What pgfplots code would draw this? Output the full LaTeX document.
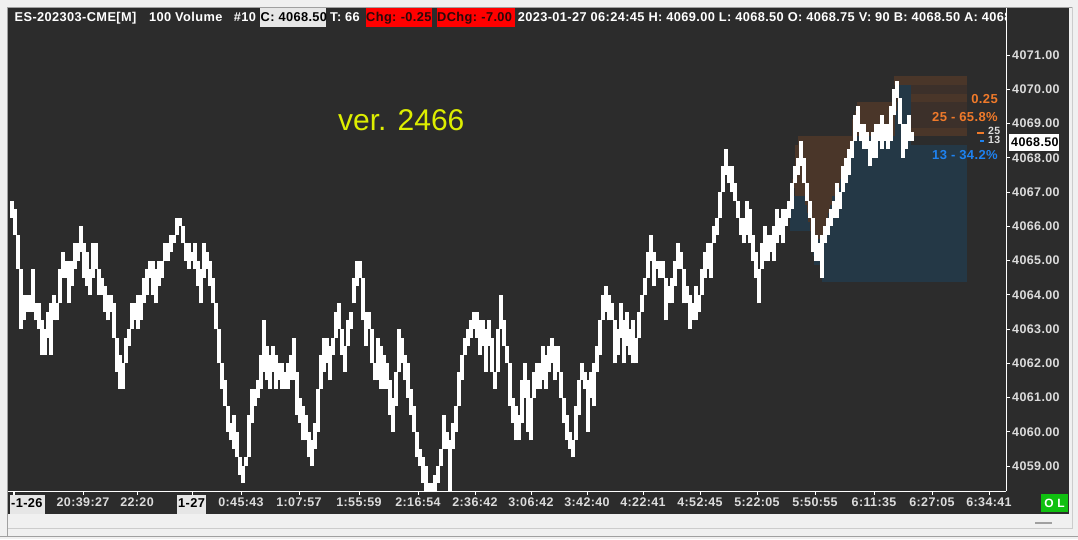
\documentclass[border=0pt]{standalone}
\usepackage{fontspec}
\setmainfont{Liberation Sans}[LetterSpace=3.0]
\newfontfamily\verfont{Liberation Sans}
\usepackage{pgfplots}
\usepackage{pgfplotstable}
\pgfplotsset{compat=1.18}
\definecolor{bgdark}{HTML}{2C2C2C}
\definecolor{frame}{HTML}{F0F0F0}
\definecolor{framegray}{HTML}{A0A0A0}
\definecolor{tickgray}{HTML}{DCDCDC}
\definecolor{brownA}{HTML}{4A3629}
\definecolor{brownB}{HTML}{3C302A}
\definecolor{blueP}{HTML}{243846}
\definecolor{orangeT}{HTML}{F07A2A}
\definecolor{blueT}{HTML}{1E82F0}
\definecolor{verY}{HTML}{DDEE00}
\definecolor{lightbox}{HTML}{E6E6E6}
\definecolor{redbox}{HTML}{FF0000}
\definecolor{redtext}{HTML}{2A0A0A}
\definecolor{greenbox}{HTML}{10C010}

\pgfplotstableread{
x hi lo
12 4066.75 4066.25
15 4066.50 4065.75
18 4065.75 4064.75
21 4064.75 4063.00
24 4064.00 4063.25
27 4064.00 4063.50
30 4064.00 4063.50
33 4064.75 4063.50
36 4063.75 4063.25
39 4063.75 4063.00
42 4063.25 4062.25
45 4063.00 4062.25
48 4063.50 4062.75
51 4063.75 4062.25
54 4064.00 4063.25
57 4063.75 4063.25
60 4064.75 4063.75
63 4065.25 4064.50
66 4065.00 4064.50
69 4065.00 4063.75
72 4065.00 4064.25
75 4065.50 4064.75
78 4065.50 4065.00
81 4066.00 4065.25
84 4065.50 4064.50
87 4065.25 4064.25
90 4064.75 4064.00
93 4065.50 4064.50
96 4065.50 4064.75
99 4064.75 4064.00
102 4064.50 4064.00
105 4064.25 4063.50
108 4064.00 4063.25
111 4064.00 4063.50
114 4063.75 4062.75
117 4062.75 4061.75
120 4062.25 4061.25
123 4062.00 4061.25
126 4062.75 4062.00
129 4063.00 4062.50
132 4063.75 4063.00
135 4063.75 4063.25
138 4064.00 4063.00
141 4064.00 4063.25
144 4064.50 4063.75
147 4064.75 4064.00
150 4065.00 4064.50
153 4065.00 4064.00
156 4064.75 4063.75
159 4065.00 4064.25
162 4065.00 4064.50
165 4065.50 4065.00
168 4065.50 4065.00
171 4065.75 4065.25
174 4065.75 4065.50
177 4066.25 4065.75
180 4066.25 4066.00
183 4066.00 4065.50
186 4065.50 4065.00
189 4065.50 4064.75
192 4065.25 4065.00
195 4065.50 4064.75
198 4065.00 4064.25
201 4064.75 4063.75
204 4065.50 4064.50
207 4065.25 4064.75
210 4065.00 4064.25
213 4064.50 4063.75
216 4063.75 4063.00
219 4063.00 4062.00
222 4062.00 4061.25
225 4061.50 4060.75
228 4060.75 4060.00
231 4060.25 4059.75
234 4060.50 4059.50
237 4060.00 4059.25
240 4059.25 4058.75
243 4059.00 4058.50
246 4059.25 4059.00
249 4060.50 4059.25
252 4061.25 4060.25
255 4061.25 4060.75
258 4061.50 4061.00
261 4062.25 4061.25
264 4063.25 4061.75
267 4062.50 4061.50
270 4062.25 4061.25
273 4062.50 4061.75
276 4062.25 4061.25
279 4062.00 4061.50
282 4062.00 4061.25
285 4061.75 4061.25
288 4062.00 4061.25
291 4062.25 4061.50
294 4062.75 4061.50
297 4061.75 4060.50
300 4061.00 4060.25
303 4060.75 4059.75
306 4060.50 4059.75
309 4060.00 4059.25
312 4059.75 4059.00
315 4060.25 4059.50
318 4061.25 4060.00
321 4062.25 4061.25
324 4062.75 4061.75
327 4062.75 4062.00
330 4062.50 4061.50
333 4062.75 4062.25
336 4063.50 4062.75
339 4063.75 4063.00
342 4063.00 4062.25
345 4062.50 4061.75
348 4063.25 4062.50
351 4063.50 4063.00
354 4064.50 4063.75
357 4065.00 4064.25
360 4065.00 4064.50
363 4064.50 4063.25
366 4063.50 4062.50
369 4063.50 4063.00
372 4063.00 4062.00
375 4062.00 4061.50
378 4062.75 4061.50
381 4062.50 4061.25
384 4062.25 4061.25
387 4062.00 4061.25
390 4061.50 4060.50
393 4061.00 4060.00
396 4061.75 4060.75
399 4063.00 4061.75
402 4062.75 4062.00
405 4062.25 4061.50
408 4062.00 4061.00
411 4061.25 4060.50
414 4060.75 4060.00
417 4060.00 4059.25
420 4059.50 4059.00
423 4059.25 4058.50
426 4059.00 4058.25
429 4058.50 4058.25
432 4058.50 4058.25
435 4058.75 4058.25
438 4059.00 4058.50
441 4059.50 4059.00
444 4060.50 4059.50
447 4060.00 4059.50
450 4059.75 4058.25
453 4060.25 4059.50
456 4060.75 4060.00
459 4061.75 4060.75
462 4062.25 4061.50
465 4062.75 4062.25
468 4063.00 4062.50
471 4063.25 4062.75
474 4063.50 4063.00
477 4063.50 4062.75
480 4063.25 4062.25
483 4063.25 4062.50
486 4063.00 4061.75
489 4063.25 4062.50
492 4062.75 4061.75
495 4061.75 4061.25
498 4063.00 4061.75
501 4064.00 4063.00
504 4063.25 4062.50
507 4062.50 4062.00
510 4062.00 4060.75
513 4061.00 4060.25
516 4060.75 4059.75
519 4060.50 4059.75
522 4061.50 4060.25
525 4062.00 4061.00
528 4061.50 4060.00
531 4061.00 4059.75
534 4061.75 4061.00
537 4062.00 4061.25
540 4062.00 4061.25
543 4062.50 4061.50
546 4062.25 4061.25
549 4062.50 4061.75
552 4062.75 4062.00
555 4062.50 4061.50
558 4062.50 4061.75
561 4061.75 4061.00
564 4061.00 4060.25
567 4060.50 4059.75
570 4060.00 4059.50
573 4059.75 4059.25
576 4060.75 4059.75
579 4061.50 4060.50
582 4062.00 4061.50
585 4061.75 4061.25
588 4061.50 4060.00
591 4061.75 4061.00
594 4062.00 4060.75
597 4062.50 4061.75
600 4063.25 4062.25
603 4064.00 4063.25
606 4064.25 4063.50
609 4064.00 4063.25
612 4063.75 4063.25
615 4063.25 4062.00
618 4063.00 4062.25
621 4063.75 4062.75
624 4063.25 4062.00
627 4063.50 4062.50
630 4063.00 4062.25
633 4063.25 4062.00
636 4062.75 4062.00
639 4063.50 4062.75
642 4064.00 4063.50
645 4064.50 4064.00
648 4065.25 4064.50
651 4065.75 4065.00
654 4065.25 4064.25
657 4065.00 4064.75
660 4065.00 4064.50
663 4065.00 4064.50
666 4064.50 4063.25
669 4064.25 4063.75
672 4064.50 4063.75
675 4065.00 4064.25
678 4065.50 4064.75
681 4065.25 4064.75
684 4064.75 4063.75
687 4064.25 4063.75
690 4064.00 4063.00
693 4063.75 4063.25
696 4064.25 4063.25
699 4064.00 4063.50
702 4064.75 4064.00
705 4065.25 4064.50
708 4065.50 4064.75
711 4065.50 4064.50
714 4066.00 4065.50
717 4066.25 4065.75
720 4067.00 4066.25
723 4067.75 4067.00
726 4068.25 4067.50
729 4067.75 4067.25
732 4067.75 4067.00
735 4067.25 4066.75
738 4066.75 4066.25
741 4066.25 4065.75
744 4066.25 4065.50
747 4066.75 4065.75
750 4066.50 4065.50
753 4065.75 4065.00
756 4065.25 4064.50
759 4064.75 4063.75
762 4065.50 4064.75
765 4066.00 4065.00
768 4065.75 4065.00
771 4065.75 4065.25
774 4066.00 4065.00
777 4066.50 4065.50
780 4066.25 4065.75
783 4066.50 4065.50
786 4066.50 4066.00
789 4066.75 4066.25
792 4067.25 4066.50
795 4067.75 4067.25
798 4068.00 4067.50
801 4068.50 4067.75
804 4068.00 4067.25
807 4067.25 4066.75
810 4066.75 4066.25
813 4066.25 4065.25
816 4065.75 4065.00
819 4065.50 4065.00
822 4065.75 4064.50
825 4066.00 4065.50
828 4066.25 4065.75
831 4066.50 4066.00
834 4066.75 4066.25
837 4067.25 4066.25
840 4067.00 4066.50
843 4067.75 4067.00
846 4068.00 4067.25
849 4068.25 4067.50
852 4068.50 4068.00
855 4069.25 4068.50
858 4069.50 4068.75
861 4069.00 4068.50
864 4069.00 4068.25
867 4068.75 4068.25
870 4068.50 4067.75
873 4068.75 4068.00
876 4069.00 4068.00
879 4069.00 4068.50
882 4069.25 4068.25
885 4069.00 4068.50
888 4069.00 4068.25
891 4069.50 4068.50
894 4070.00 4069.25
897 4070.25 4069.75
900 4069.75 4069.00
903 4069.00 4068.00
906 4069.00 4068.25
909 4069.25 4068.50
912 4068.75 4068.50
}\trace

\pgfplotstableread{
y xs xe
4070.25 894 967
4069.75 897 967
4069.50 857 911
4069.25 855 911
4069.00 852 911
4068.75 852 967
4068.50 798 853
4068.25 795 850
4068.00 795 848
4067.75 795 845
4067.50 793 843
4067.25 792 840
4067.00 795 837
4066.75 805 832
4066.50 807 830
4066.25 808 828
4066.00 810 826
4065.75 811 823
}\profA

\pgfplotstableread{
y xs xe
4070.00 897 967
4069.50 911 967
4069.25 911 967
4069.00 911 967
}\profB

\pgfplotstableread{
y xs xe
4070.00 899 911
4069.75 899 911
4069.50 897 911
4069.25 895 911
4069.00 895 911
4068.75 895 911
4068.50 853 911
4068.25 850 967
4068.00 848 967
4067.75 845 967
4067.50 843 967
4067.25 840 967
4067.00 837 967
4066.75 832 967
4066.50 830 967
4066.25 828 967
4066.00 826 967
4065.75 823 967
4065.50 812 967
4065.25 813 967
4065.00 814 967
4064.75 822 967
4064.50 822 967
4066.75 790 805
4066.50 790 807
4066.25 790 808
4066.00 790 810
}\profC

\newcommand\hf{\bfseries\fontsize{12.8}{15}\selectfont}

\begin{document}
\begin{tikzpicture}
\useasboundingbox (0pt,0pt) rectangle (1078pt,539pt);
\begin{scope}[x=1pt,y=1pt]
% frame
\fill[frame] (0,0) rectangle (1078,539);
\fill[bgdark] (8,25.4) rectangle (1069,531);
\draw[framegray, line width=1pt] (7.5,2.5) -- (7.5,531.5) -- (1072,531.5);
\draw[framegray, line width=1pt] (0,2.5) -- (1078,2.5);
\draw[black!20, line width=0.8pt] (1072,531.5) -- (1072,11) -- (8,11);
\draw[framegray, line width=2pt] (1035,16) -- (1052,16);

% header
\begin{scope}
\clip (8,511) rectangle (1006,531);
\fill[lightbox] (260,511.5) rectangle (326,531);
\fill[redbox] (366,512) rectangle (432,531);
\fill[redbox] (437,512) rectangle (515,531);
\node[anchor=base west, inner sep=0pt, text=white] at (14.5,517.5) {\hf ES-202303-CME[M]};
\node[anchor=base west, inner sep=0pt, text=white] at (149,517.5) {\hf 100 Volume};
\node[anchor=base west, inner sep=0pt, text=white] at (233.6,517.5) {\hf \#10};
\begin{scope}
\clip (260,511.5) rectangle (326,531);
\node[anchor=base west, inner sep=0pt, text=black] at (260.5,517.5) {\hf C: 4068.50};
\end{scope}
\node[anchor=base west, inner sep=0pt, text=white] at (330,517.5) {\hf T: 66};
\node[anchor=base west, inner sep=0pt, text=redtext] at (366,517.5) {\hf Chg:\,\,-0.25};
\node[anchor=base west, inner sep=0pt, text=redtext] at (437,517.5) {\hf DChg:\,\,-7.00};
\node[anchor=base west, inner sep=0pt, text=white] at (517.6,517.5) {\hf 2023-01-27 06:24:45 H: 4069.00 L: 4068.50 O: 4068.75 V: 90 B: 4068.50 A: 4068.75};
\end{scope}
\draw[white, line width=1pt] (1006,531) -- (1006,511);
\end{scope}

\begin{axis}[
  at={(8pt,48pt)}, anchor=south west,
  width=998pt, height=463pt, scale only axis,
  xmin=8, xmax=1006, ymin=4058.2701, ymax=4071.7883,
  axis x line*=bottom, axis y line*=right,
  axis line style={-, draw=white, line width=1pt},
  tick align=outside, major tick length=4pt,
  tick style={draw=white, line width=1pt},
  xtick={14,83,137,192,241,299,359,418,475,531,587,643,700,757,815,874,932,989},
  xticklabels={,20:39:27,22:20,,0:45:43,1:07:57,1:55:59,2:16:54,2:36:42,3:06:42,3:42:40,4:22:41,4:52:45,5:22:05,5:50:55,6:11:35,6:27:05,6:34:41},
  ytick={4059,4060,...,4071},
  scaled y ticks=false, scaled x ticks=false,
  ticklabel style={font=\bfseries\fontsize{12.5}{14}\selectfont, text=tickgray},
  xticklabel style={anchor=north, inner sep=0pt, yshift=-3pt},
  yticklabel style={anchor=west, inner sep=0pt, xshift=2pt},
  clip=true,
  /pgf/number format/.cd, fixed, fixed zerofill, precision=2, 1000 sep={}, assume math mode=true
]
% volume profile
\addplot[draw=none, forget plot, error bars/.cd, x dir=plus, x explicit, error mark=none,
  error bar style={draw=brownA, line width=8.7pt}]
  table[x=xs, y=y, x error expr=\thisrow{xe}-\thisrow{xs}] {\profA};
\addplot[draw=none, forget plot, error bars/.cd, x dir=plus, x explicit, error mark=none,
  error bar style={draw=brownB, line width=8.7pt}]
  table[x=xs, y=y, x error expr=\thisrow{xe}-\thisrow{xs}] {\profB};
\addplot[draw=none, forget plot, error bars/.cd, x dir=plus, x explicit, error mark=none,
  error bar style={draw=blueP, line width=8.7pt}]
  table[x=xs, y=y, x error expr=\thisrow{xe}-\thisrow{xs}] {\profC};
% price bars
\addplot[draw=none, forget plot, error bars/.cd, y dir=plus, y explicit, error mark=none,
  error bar style={draw=white, line width=3.2pt}]
  table[x=x, y=lo, y error expr=\thisrow{hi}-\thisrow{lo}] {\trace};
\end{axis}

\begin{scope}[x=1pt,y=1pt]
% profile labels
\node[anchor=base east, inner sep=0pt, text=orangeT] at (998,435) {\bfseries\fontsize{13}{15}\selectfont 0.25};
\node[anchor=base east, inner sep=0pt, text=orangeT] at (998,417.3) {\bfseries\fontsize{13}{15}\selectfont 25 - 65.8\%};
\node[anchor=base east, inner sep=0pt, text=blueT] at (998,379.7) {\bfseries\fontsize{13}{15}\selectfont 13 - 34.2\%};
\fill[orangeT] (977,405) rectangle (984,407.3);
\fill[blueT] (980,396.7) rectangle (984,399);
\node[anchor=base west, inner sep=0pt, text=tickgray] at (988,404.5) {\bfseries\fontsize{10.5}{12}\selectfont 25};
\node[anchor=base west, inner sep=0pt, text=tickgray] at (988,395) {\bfseries\fontsize{10.5}{12}\selectfont 13};
% current price box
\fill[white] (1009,388) rectangle (1059,405);
\node[anchor=base west, inner sep=0pt, text=black] at (1011,392) {\bfseries\fontsize{12.5}{14}\selectfont 4068.50};

% date boxes on time axis
\fill[lightbox] (10,25.4) rectangle (45,44.5);
\node[anchor=base west, inner sep=0pt, text=black] at (11,31.6) {\hf -1-26};
\fill[lightbox] (177,25.4) rectangle (206,44.5);
\node[anchor=base west, inner sep=0pt, text=black] at (178,31.6) {\hf 1-27};
% O L
\fill[greenbox] (1041,27) rectangle (1068,45);
\node[inner sep=0pt, text=white] at (1054.5,36) {\bfseries\fontsize{12}{14}\selectfont O L};

% version text
\node[anchor=base west, inner sep=0pt, text=verY] at (338,408) {\verfont\fontsize{30}{34}\selectfont ver. 2466};
\end{scope}
\end{tikzpicture}
\end{document}
